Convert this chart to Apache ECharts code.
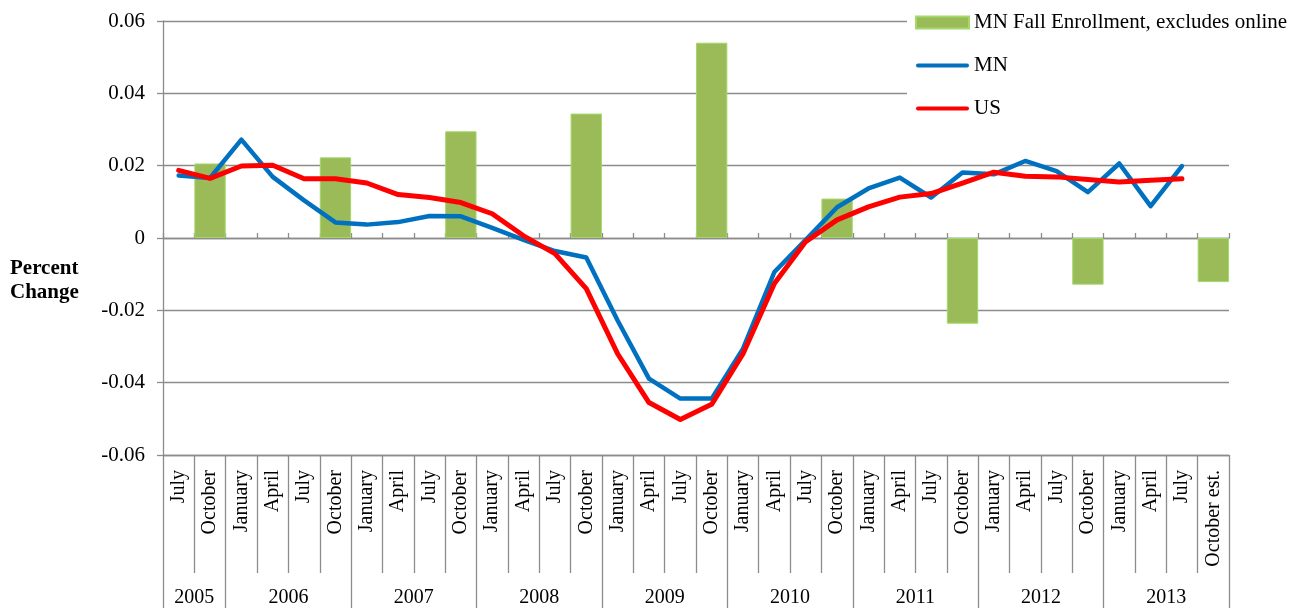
<!DOCTYPE html>
<html>
<head>
<meta charset="utf-8">
<script src="https://cdn.jsdelivr.net/npm/echarts@6/dist/echarts.min.js"></script>
<style>
  html, body { margin: 0; padding: 0; background: #ffffff; }
  #chart { width: 1301px; height: 608px; }
</style>
</head>
<body>
<div id="chart"></div>
<script>
// ---- Data ----
const months = ['July','October',
  'January','April','July','October',
  'January','April','July','October',
  'January','April','July','October',
  'January','April','July','October',
  'January','April','July','October',
  'January','April','July','October',
  'January','April','July','October',
  'January','April','July','October est.'];
const years = ['2005','2006','2007','2008','2009','2010','2011','2012','2013'];
const yearSpans = [2,4,4,4,4,4,4,4,4];

const enrollment = [null,0.0206, null,null,null,0.0223, null,null,null,0.0295,
  null,null,null,0.0344, null,null,null,0.0540, null,null,null,0.0109,
  null,null,null,-0.0237, null,null,null,-0.0129, null,null,null,-0.0122];
const mn = [0.0173,0.0166, 0.0272,0.0169,0.0104,0.0043, 0.0037,0.0044,0.0061,0.0060,
  0.0028,-0.0005,-0.0036,-0.0054, -0.0228,-0.0389,-0.0444,-0.0444,
  -0.0306,-0.0094,-0.0005,0.0085, 0.0137,0.0167,0.0112,0.0181,
  0.0176,0.0213,0.0185,0.0127, 0.0206,0.0088,0.0199,null];
const us = [0.0187,0.0165, 0.0199,0.0201,0.0164,0.0164, 0.0152,0.0120,0.0112,0.0098,
  0.0067,0.0006,-0.0043,-0.0140, -0.0320,-0.0455,-0.0502,-0.0460,
  -0.0320,-0.0126,-0.0010,0.0050, 0.0086,0.0113,0.0123,0.0152,
  0.0182,0.0171,0.0169,0.0162, 0.0155,0.0160,0.0164,null];
const seriesNames = ['MN Fall Enrollment, excludes online','MN','US'];
const yMin = -0.06, yMax = 0.06, yStep = 0.02;

// ---- Derived year boundaries / centers (in category units) ----
const yearBounds = [0];
const yearCenters = [];
let acc = 0;
yearSpans.forEach(s => { yearCenters.push(acc + s / 2); acc += s; yearBounds.push(acc); });

const FONT = 'Liberation Serif';
const GRAY = '#8c8c8c';
const LINE_ICON = 'path://M2,0 L51,0 A2,2 0 0 1 51,4 L2,4 A2,2 0 0 1 2,0 Z';

const chart = echarts.init(document.getElementById('chart'), null, { renderer: 'canvas' });
chart.setOption({
  backgroundColor: '#ffffff',
  animation: false,
  title: {
    text: 'Percent\nChange',
    left: 5, top: 252,
    textStyle: { fontFamily: FONT, fontWeight: 'bold', fontSize: 21, lineHeight: 24, color: '#000' }
  },
  legend: {
    orient: 'vertical',
    left: 907, top: 4,
    padding: [8, 12, 8, 8],
    backgroundColor: '#ffffff',
    itemWidth: 53, itemHeight: 12, itemGap: 22,
    itemTextGap: 5,
    symbolKeepAspect: true,
    textStyle: { fontFamily: FONT, fontSize: 21, lineHeight: 20, color: '#000' },
    data: [
      { name: seriesNames[0], icon: 'rect' },
      { name: seriesNames[1], icon: LINE_ICON },
      { name: seriesNames[2], icon: LINE_ICON }
    ]
  },
  grid: { left: 163, right: 72, top: 21, bottom: 153, containLabel: false },
  yAxis: {
    type: 'value', min: yMin, max: yMax, interval: yStep,
    axisLine: { show: true, lineStyle: { color: GRAY, width: 1.3 } },
    axisTick: { show: true, length: 6, lineStyle: { color: GRAY, width: 1.3 } },
    splitLine: { show: true, lineStyle: { color: GRAY, width: 1.3 } },
    axisLabel: {
      fontFamily: FONT, fontSize: 21, color: '#000', margin: 18,
      formatter: v => Math.abs(v) < 1e-9 ? '0' : v.toFixed(2)
    }
  },
  xAxis: [
    { // month labels with separators
      type: 'category', data: months, position: 'bottom',
      axisLine: { show: true, onZero: false, lineStyle: { color: GRAY, width: 1.3 } },
      axisTick: { show: true, interval: 0, length: 118, lineStyle: { color: GRAY, width: 1.3 } },
      axisLabel: { interval: 0, rotate: 90, margin: 15, fontFamily: FONT, fontSize: 20, color: '#000' },
      splitLine: { show: false }
    },
    { // year row
      type: 'value', min: 0, max: months.length, position: 'bottom', offset: 118,
      axisLine: { show: false, onZero: false },
      axisTick: { show: true, customValues: yearBounds, length: 36, lineStyle: { color: GRAY, width: 1.3 } },
      axisLabel: {
        customValues: yearCenters, margin: 15, fontFamily: FONT, fontSize: 20, color: '#000',
        formatter: v => { const i = yearCenters.indexOf(v); return i >= 0 ? years[i] : ''; }
      },
      splitLine: { show: false }
    },
    { // axis line at zero with small ticks
      type: 'category', data: months,
      axisLine: { show: true, onZero: true, lineStyle: { color: GRAY, width: 1.3 } },
      axisTick: { show: true, interval: 0, length: 5, lineStyle: { color: GRAY, width: 1.3 } },
      axisLabel: { show: false },
      splitLine: { show: false }
    }
  ],
  series: [
    {
      name: seriesNames[0], type: 'bar', xAxisIndex: 0, yAxisIndex: 0,
      data: enrollment, barCategoryGap: '0%',
      itemStyle: { color: '#9BBB59', borderColor: '#a3d86a', borderWidth: 1 }
    },
    {
      name: seriesNames[1], type: 'line', xAxisIndex: 0, yAxisIndex: 0,
      data: mn, symbol: 'none', connectNulls: false,
      itemStyle: { color: '#0070C0' },
      lineStyle: { color: '#0070C0', width: 4.5, cap: 'round', join: 'round' }
    },
    {
      name: seriesNames[2], type: 'line', xAxisIndex: 0, yAxisIndex: 0,
      data: us, symbol: 'none', connectNulls: false,
      itemStyle: { color: '#FF0000' },
      lineStyle: { color: '#FF0000', width: 5, cap: 'round', join: 'round' }
    }
  ]
});
</script>
</body>
</html>
